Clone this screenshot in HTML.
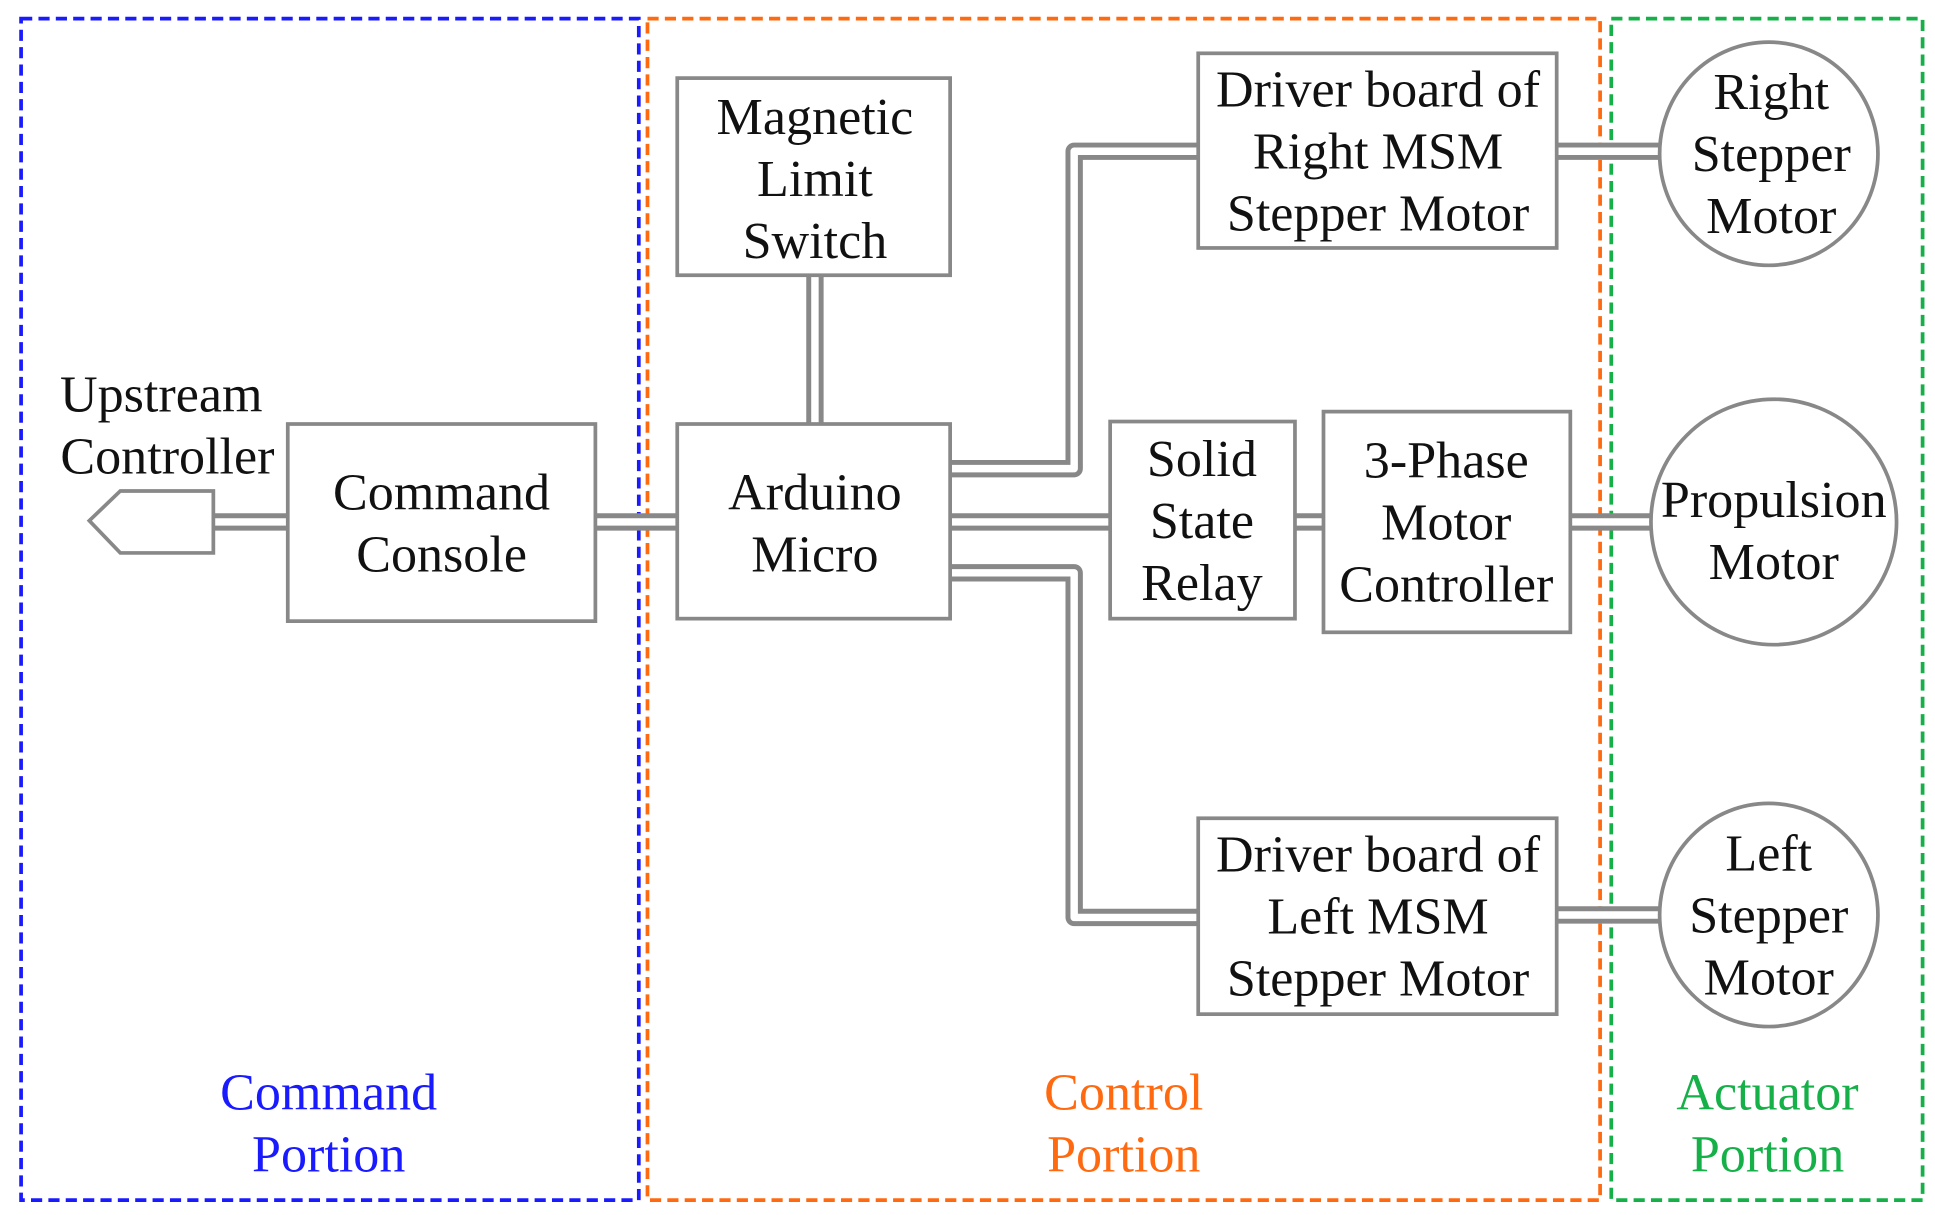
<!DOCTYPE html>
<html><head><meta charset="utf-8"><style>html,body{margin:0;padding:0;background:#fff}svg{display:block}</style></head>
<body>
<svg width="1935" height="1215" viewBox="0 0 1560 980" preserveAspectRatio="none" xmlns="http://www.w3.org/2000/svg">
<g fill="none" stroke-dasharray="9,5" stroke-width="3">
<rect x="17" y="15" width="498" height="953" stroke="#1a1aff"/>
<rect x="522" y="15" width="768" height="953" stroke="#ff6a10"/>
<rect x="1299" y="15" width="251" height="953" stroke="#16b048"/>
</g>
<g fill="none" stroke-linejoin="round">
<g stroke="#888" stroke-width="14">
<path d="M172 421H232"/><path d="M480 421H546"/><path d="M657 222V342"/>
<path d="M766 378H866V122H966"/><path d="M766 462H866V740H966"/>
<path d="M766 421H895"/><path d="M1044 421H1067"/><path d="M1266 421H1330"/>
<path d="M1255 122H1338"/><path d="M1255 738H1338"/>
</g>
<g stroke="#fff" stroke-width="6">
<path d="M172 421H232"/><path d="M480 421H546"/><path d="M657 222V342"/>
<path d="M766 378H866V122H966"/><path d="M766 462H866V740H966"/>
<path d="M766 421H895"/><path d="M1044 421H1067"/><path d="M1266 421H1330"/>
<path d="M1255 122H1338"/><path d="M1255 738H1338"/>
</g>
</g>
<g fill="#fff" stroke="#888" stroke-width="3">
<polygon points="72,420 97,396 172,396 172,446 97,446"/>
<rect x="546" y="63" width="220" height="159"/>
<rect x="546" y="342" width="220" height="157"/>
<rect x="232" y="342" width="248" height="159"/>
<rect x="895" y="340" width="149" height="159"/>
<rect x="1067" y="332" width="199" height="178"/>
<rect x="966" y="43" width="289" height="157"/>
<rect x="966" y="660" width="289" height="158"/>
<ellipse cx="1430" cy="421" rx="99" ry="99"/>
<ellipse cx="1426" cy="124" rx="88" ry="90"/>
<ellipse cx="1426" cy="738" rx="88" ry="90"/>
</g>
<g font-family="Liberation Serif, serif" font-size="42" fill="#111" text-anchor="middle">
<text x="657" y="108">Magnetic</text><text x="657" y="158">Limit</text><text x="657" y="208">Switch</text>
<text x="657" y="411">Arduino</text><text x="657" y="461">Micro</text>
<text x="356" y="411">Command</text><text x="356" y="461">Console</text>
<text x="969" y="384">Solid</text><text x="969" y="434">State</text><text x="969" y="484">Relay</text>
<text x="1166" y="385">3-Phase</text><text x="1166" y="435">Motor</text><text x="1166" y="485">Controller</text>
<text x="1111" y="86">Driver board of</text><text x="1111" y="136">Right MSM</text><text x="1111" y="186">Stepper Motor</text>
<text x="1111" y="703">Driver board of</text><text x="1111" y="753">Left MSM</text><text x="1111" y="803">Stepper Motor</text>
<text x="1428" y="88">Right</text><text x="1428" y="138">Stepper</text><text x="1428" y="188">Motor</text>
<text x="1430" y="417">Propulsion</text><text x="1430" y="467">Motor</text>
<text x="1426" y="702">Left</text><text x="1426" y="752">Stepper</text><text x="1426" y="802">Motor</text>
<text x="130" y="332">Upstream</text><text x="135" y="382">Controller</text>
<text x="265" y="895" fill="#1a1aff">Command</text><text x="265" y="945" fill="#1a1aff">Portion</text>
<text x="906" y="895" fill="#ff6a10">Control</text><text x="906" y="945" fill="#ff6a10">Portion</text>
<text x="1425" y="895" fill="#16b048">Actuator</text><text x="1425" y="945" fill="#16b048">Portion</text>
</g>
</svg>
</body></html>
